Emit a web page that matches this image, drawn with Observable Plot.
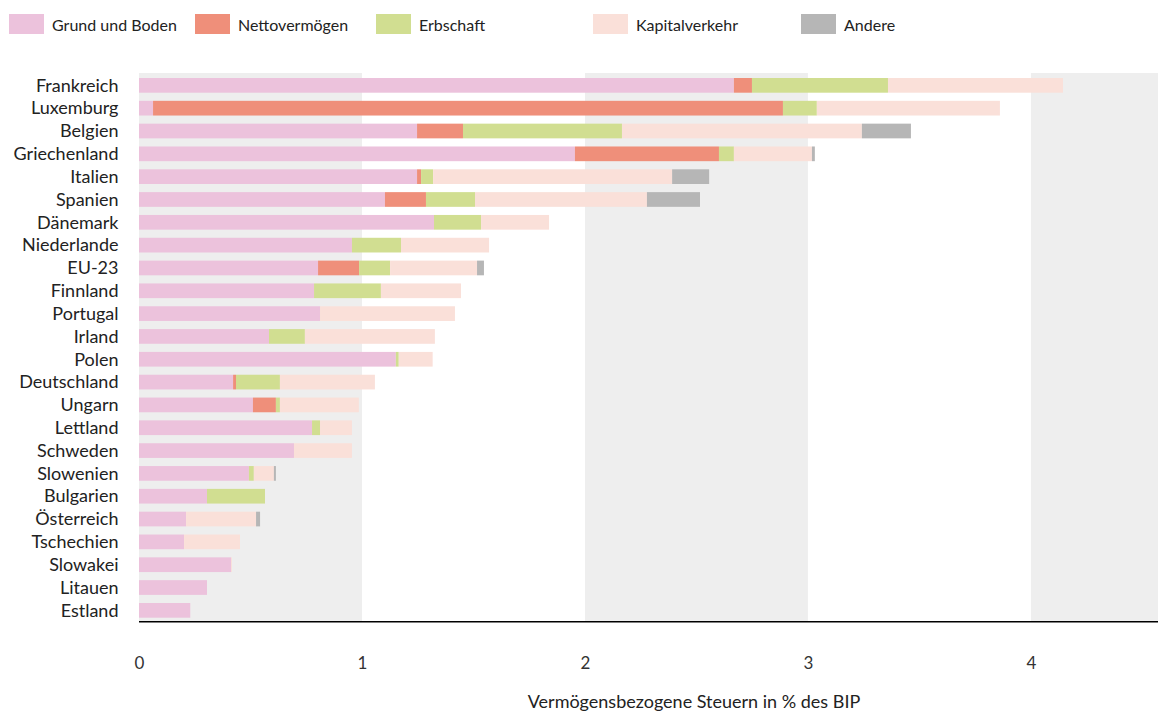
<!DOCTYPE html>
<html>
<head>
<meta charset="utf-8">
<script src="https://cdn.jsdelivr.net/npm/d3@7"></script>
<script src="https://cdn.jsdelivr.net/npm/@observablehq/plot@0.6"></script>
<style>
  html, body { margin: 0; padding: 0; background: #fff; }
  body { width: 1158px; height: 711px; overflow: hidden; font-family: Lato, "Noto Sans", sans-serif; color: #222; }
  #legend { position: relative; height: 50px; }
  .item { position: absolute; top: 14px; display: flex; align-items: center; font-size: 16px; }
  .sw { width: 35px; height: 20px; margin-right: 8px; }
  #chart svg { display: block; }
</style>
</head>
<body>
<div id="legend"></div>
<div id="chart"></div>
<script>
const countries = ["Frankreich","Luxemburg","Belgien","Griechenland","Italien","Spanien","Dänemark","Niederlande","EU-23","Finnland","Portugal","Irland","Polen","Deutschland","Ungarn","Lettland","Schweden","Slowenien","Bulgarien","Österreich","Tschechien","Slowakei","Litauen","Estland"];
const categories = ["Grund und Boden","Nettovermögen","Erbschaft","Kapitalverkehr","Andere"];
const colors = ["#ecc2dc","#ef8f7a","#d1de91","#fae0d9","#b6b6b6"];
const grund  = [2.668,0.063,1.247,1.955,1.247,1.103,1.323,0.955,0.803,0.785,0.812,0.583,1.152,0.422,0.511,0.776,0.695,0.493,0.305,0.211,0.202,0.413,0.305,0.23];
const netto  = [0.081,2.825,0.206,0.646,0.018,0.184,0,0,0.184,0,0,0,0,0.013,0.103,0,0,0,0,0,0,0,0,0];
const erb    = [0.61,0.152,0.713,0.067,0.054,0.22,0.211,0.22,0.139,0.30,0,0.161,0.013,0.197,0.018,0.036,0,0.022,0.26,0,0,0,0,0];
const kap    = [0.785,0.821,1.076,0.35,1.072,0.771,0.305,0.395,0.39,0.359,0.605,0.583,0.152,0.426,0.354,0.143,0.26,0.09,0,0.314,0.251,0.004,0,0];
const andere = [0,0,0.22,0.013,0.166,0.238,0,0,0.031,0,0,0,0,0,0,0,0,0.009,0,0.018,0,0,0,0];
const xTicks = [0,1,2,3,4];
const bandStarts = [0,2,4];
const xMax = 4.57;
const axisLabel = "Vermögensbezogene Steuern in % des BIP";

const series = [grund, netto, erb, kap, andere];
const data = [];
countries.forEach((c, i) => {
  categories.forEach((k, j) => {
    data.push({country: c, category: k, value: series[j][i]});
  });
});

// legend
const legendLefts = [9, 195, 376, 593, 801];
const legend = document.getElementById("legend");
categories.forEach((k, j) => {
  const it = document.createElement("div");
  it.className = "item";
  it.style.left = legendLefts[j] + "px";
  const sw = document.createElement("div");
  sw.className = "sw";
  sw.style.background = colors[j];
  const t = document.createElement("span");
  t.textContent = k;
  it.appendChild(sw); it.appendChild(t);
  legend.appendChild(it);
});

const axisLine = (index, scales, values, dims) => {
  const l = document.createElementNS("http://www.w3.org/2000/svg", "line");
  const y = dims.height - dims.marginBottom + 4;
  l.setAttribute("x1", dims.marginLeft);
  l.setAttribute("x2", dims.width - dims.marginRight);
  l.setAttribute("y1", y);
  l.setAttribute("y2", y);
  l.setAttribute("stroke", "#000");
  l.setAttribute("stroke-width", 1.5);
  return l;
};

const chart = Plot.plot({
  width: 1158,
  height: 661,
  marginTop: 28,
  marginBottom: 93.3,
  marginLeft: 139,
  marginRight: 0,
  style: {fontFamily: "Lato, 'Noto Sans', sans-serif", fontSize: "18px", color: "#222", background: "#fff"},
  x: {domain: [0, xMax], ticks: xTicks, tickFormat: d3.format("d")},
  y: {domain: countries, paddingInner: 0.356, paddingOuter: 0, align: 0.5, round: false},
  color: {domain: categories, range: colors},
  marks: [
    Plot.rect(bandStarts, {x1: d => d, x2: d => Math.min(d + 1, xMax), fill: "#eeeeee", insetTop: -5, insetBottom: -3.5}),
    Plot.barX(data, {y: "country", x: "value", fill: "category"}),
    axisLine,
    Plot.axisX({ticks: xTicks, tickFormat: d3.format("d"), tickSize: 0, tickPadding: 39, label: null, fontSize: 17, fill: "#333"}),
    Plot.axisY({tickSize: 0, tickPadding: 21, label: null, fontSize: 18, fill: "#222"}),
    Plot.text([axisLabel], {frameAnchor: "bottom", dx: 45, dy: 84.5, lineAnchor: "middle", fontSize: 18, fill: "#222"})
  ]
});
document.getElementById("chart").appendChild(chart);
</script>
</body>
</html>
